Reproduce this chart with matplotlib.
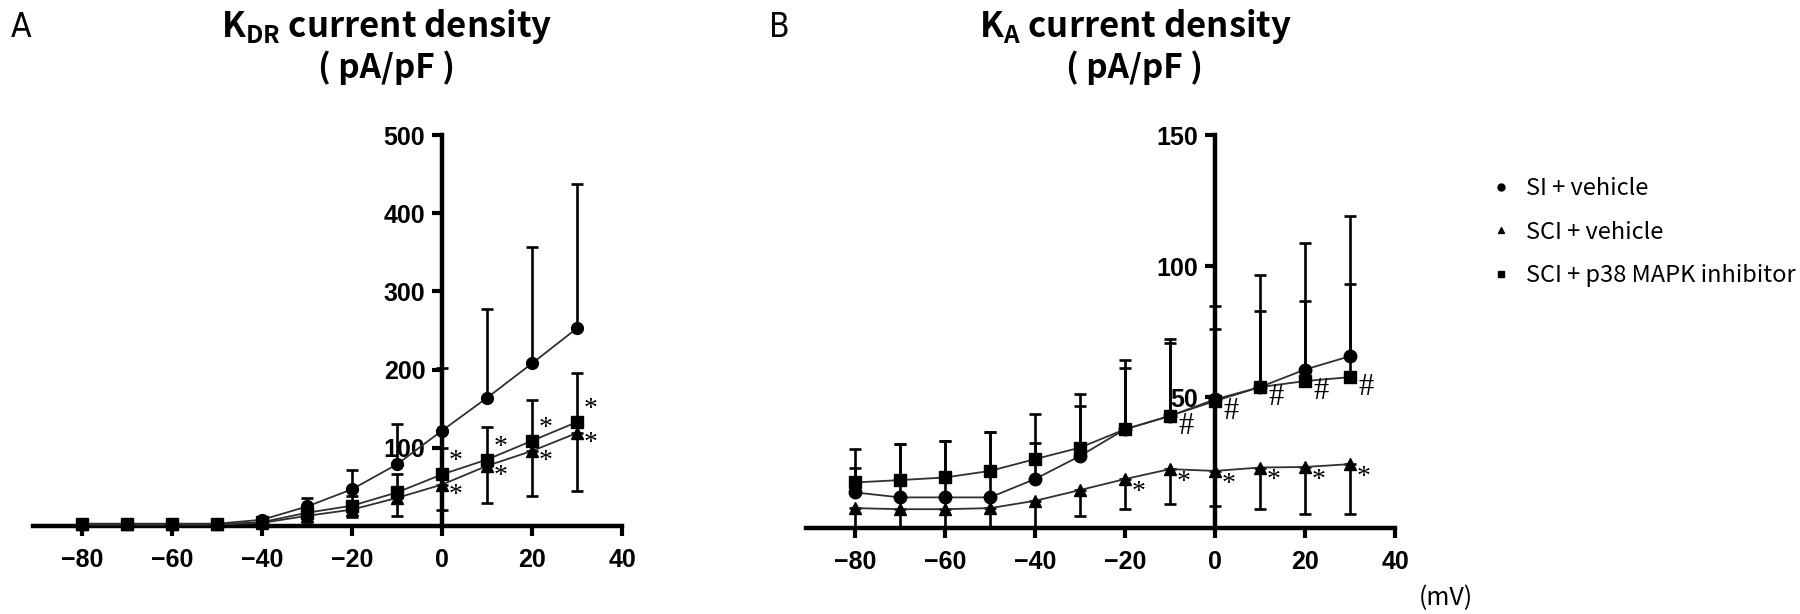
import numpy as np
import matplotlib
matplotlib.use('Agg')
import matplotlib.pyplot as plt
from matplotlib.lines import Line2D

plt.rcParams['mathtext.fontset'] = 'custom'
plt.rcParams['mathtext.bf'] = 'Noto Sans CJK JP:bold'
plt.rcParams['mathtext.rm'] = 'Noto Sans CJK JP'

GOTHIC = ['Noto Sans CJK JP', 'DejaVu Sans']
TICKFONT = ['Liberation Sans', 'DejaVu Sans']
MARKFONT = ['Liberation Serif', 'DejaVu Serif']

# command potentials (mV)
volts = [-80, -70, -60, -50, -40, -30, -20, -10, 0, 10, 20, 30]

# K_DR current density (pA/pF)
kdr_si = [3, 3, 3, 3, 8, 25, 47, 79, 122, 164, 208, 253]
kdr_si_sem = [0, 0, 0, 0, 0, 11, 25, 52, 80, 114, 149, 185]
kdr_sci = [2, 2, 2, 2, 4, 13, 21, 36, 53, 77, 96, 119]
kdr_sci_sem = [0, 0, 0, 0, 0, 8, 10, 23, 32, 47, 58, 74]
kdr_p38 = [2, 2, 2, 2, 5, 17, 26, 43, 66, 85, 109, 133]
kdr_p38_sem = [0, 0, 0, 0, 0, 8, 12, 24, 34, 41, 52, 63]
kdr_star_v = [0, 10, 20, 30]

# K_A current density (pA/pF)
ka_si = [13.6, 11.7, 11.7, 11.7, 18.7, 27.5, 37.7, 42.8, 49.1, 53.8, 60.5, 65.6]
ka_si_sem = [16.5, 20.3, 21.5, 25.1, 24.9, 23.5, 26.3, 29.2, 35.5, 42.9, 48.3, 53.6]
ka_sci = [7.6, 7.2, 7.2, 7.6, 10.4, 14.5, 18.7, 22.5, 21.8, 23.1, 23.3, 24.4]
ka_sci_sem = [7.6, 7.2, 7.2, 7.6, 10.4, 9.8, 11.5, 13.4, 13.3, 15.9, 18.0, 19.1]
ka_p38 = [17.4, 18.3, 19.3, 21.8, 26.3, 30.7, 37.7, 42.8, 48.5, 53.8, 56.1, 57.6]
ka_p38_sem = [5.7, 13.7, 13.9, 15.0, 6.3, 15.9, 23.5, 27.9, 27.3, 28.9, 30.4, 35.5]
ka_hash_v = [-10, 0, 10, 20, 30]
ka_star_v = [-20, -10, 0, 10, 20, 30]

labels = ['SI + vehicle', 'SCI + vehicle', 'SCI + p38 MAPK inhibitor']

fig = plt.figure(figsize=(18, 6.14), dpi=100)
ax_a = fig.add_axes([0.0181, 0.1433, 0.3275, 0.6368])
ax_b = fig.add_axes([0.4475, 0.1400, 0.3275, 0.6400])


def series(ax, y, sem, marker, up=True, ms=8.5):
    y = np.array(y, dtype=float)
    sem = np.array(sem, dtype=float)
    zero = np.zeros_like(sem)
    err = [zero, sem] if up else [sem, zero]
    ax.errorbar(volts, y, yerr=err, fmt='none', ecolor='black',
                elinewidth=1.9, capsize=4.5, capthick=1.9, clip_on=False, zorder=3)
    ax.plot(volts, y, color='#303030', lw=1.3, marker=marker, ms=ms,
            mfc='black', mec='black', clip_on=False, zorder=4)


def style_axes(ax, ymax, ystep):
    ax.set_xlim(-91, 40)
    ax.set_ylim(0, ymax)
    for side in ['top', 'right']:
        ax.spines[side].set_visible(False)
    ax.spines['left'].set_position(('data', 0))
    ax.spines['left'].set_linewidth(3.2)
    ax.spines['bottom'].set_linewidth(3.2)
    ax.set_xticks(np.arange(-80, 41, 20))
    ax.set_yticks(np.arange(ystep, ymax + 1, ystep))
    ax.tick_params(direction='out', length=7, width=3, labelsize=18)
    ax.tick_params(axis='x', pad=9)
    ax.tick_params(axis='y', pad=5)
    for lab in ax.get_xticklabels() + ax.get_yticklabels():
        lab.set_family(TICKFONT)
        lab.set_fontweight('bold')
    ax.patch.set_visible(False)


def marks(ax, vs, y, text, dx, dy, size=20):
    for v in vs:
        i = volts.index(v)
        ax.text(v + dx, y[i] + dy, text, family=MARKFONT, fontsize=size,
                ha='center', va='center', zorder=5)


# panel A
series(ax_a, kdr_si, kdr_si_sem, 'o')
series(ax_a, kdr_sci, kdr_sci_sem, '^', up=False)
series(ax_a, kdr_p38, kdr_p38_sem, 's')
style_axes(ax_a, 500, 100)
marks(ax_a, kdr_star_v, kdr_p38, '*', 3, 16)
marks(ax_a, kdr_star_v, kdr_sci, '*', 3, -14)

# panel B
series(ax_b, ka_si, ka_si_sem, 'o', ms=9)
series(ax_b, ka_sci, ka_sci_sem, '^', up=False, ms=9)
series(ax_b, ka_p38, ka_p38_sem, 's', ms=9)
style_axes(ax_b, 150, 50)
marks(ax_b, ka_hash_v, ka_p38, '#', 3.5, -4, size=22)
marks(ax_b, ka_star_v, ka_sci, '*', 3, -5)

# titles and panel letters
fig.text(0.215, 0.94, r'$\mathbf{K_{DR}}$ current density', family=GOTHIC,
         fontweight='bold', fontsize=25, ha='center', va='baseline')
fig.text(0.215, 0.873, '( pA/pF )', family=GOTHIC, fontweight='bold',
         fontsize=24, ha='center', va='baseline')
fig.text(0.631, 0.94, r'$\mathbf{K_{A}}$ current density', family=GOTHIC,
         fontweight='bold', fontsize=25, ha='center', va='baseline')
fig.text(0.630, 0.873, '( pA/pF )', family=GOTHIC, fontweight='bold',
         fontsize=24, ha='center', va='baseline')
fig.text(0.006, 0.94, 'A', family='DejaVu Sans', fontstretch='condensed',
         fontweight='light', fontsize=24, va='baseline')
fig.text(0.427, 0.94, 'B', family='DejaVu Sans', fontstretch='condensed',
         fontweight='light', fontsize=24, va='baseline')
fig.text(0.803, 0.015, '(mV)', family=GOTHIC, fontsize=18, ha='center', va='baseline')

# legend
handles = [Line2D([], [], ls='none', marker=m, color='black', ms=5)
           for m in ['o', '^', 's']]
fig.legend(handles, labels, loc='center left', bbox_to_anchor=(0.821, 0.622),
           frameon=False, handlelength=1.0, handletextpad=0.55, labelspacing=0.86,
           borderpad=0, prop={'family': GOTHIC, 'size': 17})

fig.savefig('out.png', dpi=100)
